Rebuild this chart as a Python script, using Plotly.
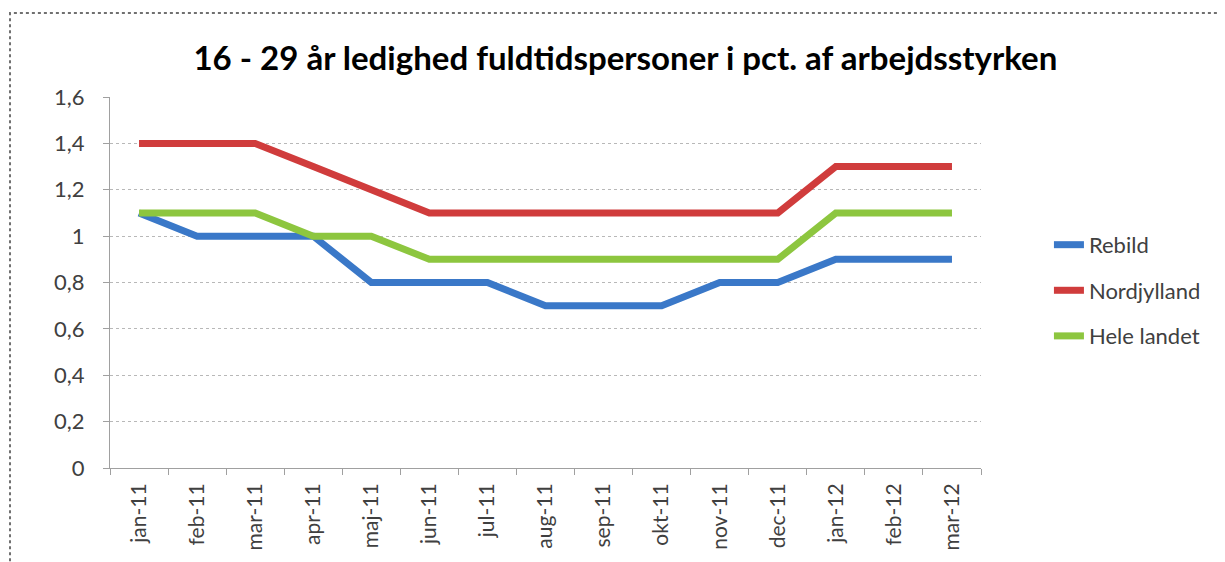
import plotly.graph_objects as go

months = ["jan-11", "feb-11", "mar-11", "apr-11", "maj-11", "jun-11", "jul-11", "aug-11",
          "sep-11", "okt-11", "nov-11", "dec-11", "jan-12", "feb-12", "mar-12"]
rebild = [1.1, 1.0, 1.0, 1.0, 0.8, 0.8, 0.8, 0.7, 0.7, 0.7, 0.8, 0.8, 0.9, 0.9, 0.9]
nordjylland = [1.4, 1.4, 1.4, 1.3, 1.2, 1.1, 1.1, 1.1, 1.1, 1.1, 1.1, 1.1, 1.3, 1.3, 1.3]
hele_landet = [1.1, 1.1, 1.1, 1.0, 1.0, 0.9, 0.9, 0.9, 0.9, 0.9, 0.9, 0.9, 1.1, 1.1, 1.1]
y_ticks = [0, 0.2, 0.4, 0.6, 0.8, 1.0, 1.2, 1.4, 1.6]
y_labels = ["0", "0,2", "0,4", "0,6", "0,8", "1", "1,2", "1,4", "1,6"]

series = [("Rebild", rebild, "#3A78C8"),
          ("Nordjylland", nordjylland, "#D03C3C"),
          ("Hele landet", hele_landet, "#8DC63F")]

fig = go.Figure()
for name, vals, col in series:
    fig.add_trace(go.Scatter(x=months, y=vals, name=name, mode="lines",
                             legendgroup=name,
                             line=dict(color=col, width=7)))

font = "Lato, 'Open Sans', sans-serif"
fig.update_layout(
    width=1225, height=562,
    margin=dict(l=102, r=252, t=89, b=102),
    paper_bgcolor="white", plot_bgcolor="white",
    title=dict(text="<b>16 - 29 år ledighed fuldtidspersoner i pct. af arbejdsstyrken</b>",
               x=0.504, xanchor="center", y=0.91, yanchor="middle",
               font=dict(family=font, size=33, color="#000000")),
    font=dict(family=font, size=20, color="#404040"),
    showlegend=True,
    legend=dict(x=1.078, xanchor="left", y=0.658, yanchor="top",
                traceorder="grouped", tracegroupgap=14,
                font=dict(family=font, size=22, color="#404040"),
                bgcolor="rgba(0,0,0,0)"),
    xaxis=dict(type="category", range=[-0.5, 14.5], tickangle=-90,
               showgrid=False, showline=True, linecolor="#A0A0A0",
               ticks="outside", ticklen=6, tickcolor="#A0A0A0", tickson="boundaries",
               ticklabelstandoff=6,
               tickfont=dict(family=font, size=21, color="#404040")),
    yaxis=dict(range=[0, 1.6], tickvals=y_ticks, ticktext=y_labels,
               showgrid=True, gridcolor="#B8B8B8", griddash="dot", gridwidth=1,
               showline=True, linecolor="#A0A0A0", ticks="outside", ticklen=6,
               tickcolor="#A0A0A0", zeroline=False, ticklabelstandoff=14,
               tickfont=dict(family=font, size=22, color="#404040")),
)
fig.add_shape(type="rect", xref="paper", yref="paper",
              x0=-0.1148, x1=1.3, y0=-0.3, y1=1.2264,
              line=dict(color="#707070", width=2, dash="dot"), layer="above")
fig.write_html("out.html")
